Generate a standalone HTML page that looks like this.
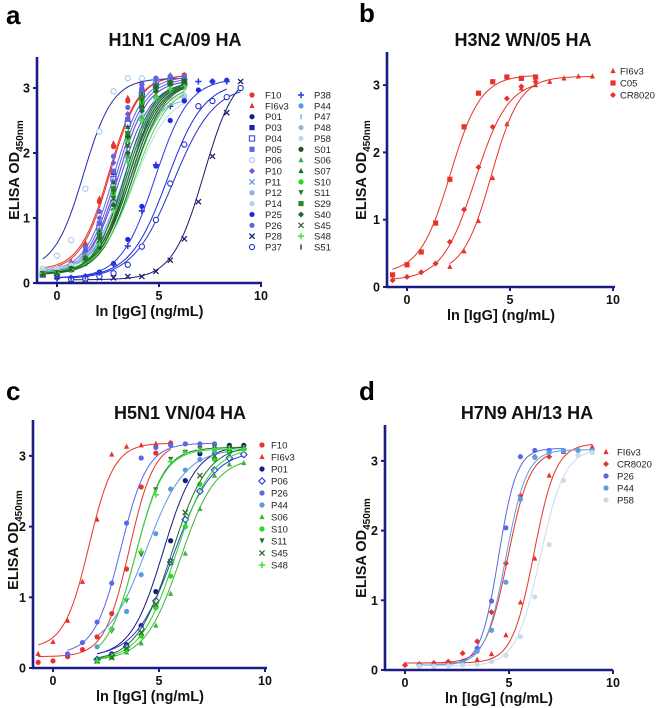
<!DOCTYPE html>
<html><head><meta charset="utf-8"><style>
body{margin:0;background:#fff;width:660px;height:708px;overflow:hidden}
svg{display:block;font-family:"Liberation Sans",Arial,sans-serif}
.tl{font-weight:bold;font-size:12.5px;fill:#111}
.ti{font-weight:bold;font-size:18px;fill:#111}
.pl{font-weight:bold;font-size:26px;fill:#000}
.at{font-weight:bold;font-size:14.5px;fill:#111}
.lg{font-size:9.5px;fill:#222}
</style></head><body>
<svg id="fig" width="660" height="708" viewBox="0 0 660 708"></svg>
<script>
// ---------- DATA ----------
// x grid (ln ng/mL) for dilution steps
const gridX = [-0.7,0.0,0.69,1.39,2.08,2.77,3.47,4.16,4.85,5.55,6.24,6.93,7.62,8.32,9.0];

// Panel a: H1N1 CA/09 HA
const aNames   = ["F10","FI6v3","P01","P03","P04","P05","P06","P10","P11","P12","P14","P25","P26","P28","P37","P38","P44","P47","P48","P58","S01","S06","S07","S10","S11","S29","S40","S45","S48","S51"];
const aColors  = ["#e8322a","#e8322a","#1a1a80","#1a22b0","#4848d8","#6464d8","#2828a8","#6a58d8","#58a0e0","#86b4e6","#b8d0ee","#1a2ae0","#5a68e6","#1a1a70","#2232c8","#2a3ae0","#5a9ae0","#90b4e0","#9ab4d6","#c4d8ec","#1a5a1a","#3cb43c","#1a6a2a","#22dd22","#2a7a2a","#2a8a2a","#1a6a3a","#2a6a2a","#40e040","#2a5a2a"];
const aMarkers = ["circle","tri","circle","square","osquare","square","ocircle","diamond","x","circle","circle","circle","circle","x","ocircle","plus","circle","bar","circle","circle","circle","tri","tri","circle","dtri","square","diamond","x","plus","bar"];
const aEC50    = [2.6,2.55,3.6,3.0,3.1,3.0,1.3,2.9,3.3,3.2,3.4,5.4,2.8,7.2,5.7,4.8,3.4,3.3,3.6,3.8,3.5,3.7,3.3,3.5,3.6,3.4,3.7,3.6,3.8,3.5];
const aSlope   = [1.4,1.4,1.3,1.4,1.3,1.4,1.4,1.4,1.3,1.3,1.2,1.1,1.4,1.3,1.0,1.2,1.3,1.3,1.2,1.2,1.4,1.3,1.4,1.3,1.3,1.4,1.3,1.3,1.2,1.3];
const aBottom  = [0.18,0.2,0.14,0.15,0.13,0.15,0.2,0.15,0.16,0.18,0.2,0.08,0.16,0.05,0.06,0.07,0.18,0.17,0.2,0.2,0.14,0.14,0.14,0.15,0.14,0.14,0.13,0.14,0.15,0.14];
const aTop     = [3.2,3.2,3.1,3.12,3.1,3.12,3.15,3.15,3.12,2.85,3.0,3.1,3.18,3.3,3.05,3.15,3.1,3.1,3.0,2.9,3.1,3.05,3.1,3.1,3.1,3.1,3.1,3.1,3.05,3.1];
const aStart   = [0,0,0,0,0,0,0,0,0,0,0,1,0,2,2,1,0,0,0,0,0,0,0,0,0,0,0,0,0,0];
const aY = [
 [0.18,0.2,0.3,0.58,1.25,2.1,2.8,3.05,3.15,3.18,3.2],
 [0.2,0.22,0.33,0.62,1.3,2.15,2.85,3.1,3.15,3.2,3.2],
 [0.15,0.15,0.2,0.3,0.55,1.12,1.95,2.7,3.0,3.1,3.1],
 [0.15,0.17,0.25,0.42,0.9,1.7,2.5,2.95,3.08,3.12,3.12],
 [0.13,0.15,0.22,0.4,0.85,1.6,2.45,2.9,3.05,3.1,3.1],
 [0.15,0.17,0.26,0.45,0.92,1.72,2.52,2.95,3.08,3.12,3.1],
 [0.22,0.42,0.66,1.45,2.33,2.95,3.15,3.15,3.12,3.1,3.1],
 [0.16,0.2,0.3,0.5,1.0,1.85,2.6,3.0,3.12,3.15,3.15],
 [0.16,0.18,0.25,0.4,0.75,1.45,2.3,2.8,3.0,3.1,2.85],
 [0.18,0.2,0.27,0.42,0.8,1.45,2.2,2.65,2.8,2.85,2.85],
 [0.2,0.22,0.28,0.42,0.75,1.3,2.0,2.6,2.85,2.95,3.0],
 [0.08,0.08,0.1,0.17,0.3,0.67,1.18,1.8,2.5,2.8,2.97,3.1,3.12],
 [0.16,0.2,0.3,0.55,1.1,1.95,2.7,3.05,3.15,3.18,3.18],
 [0.05,0.06,0.08,0.08,0.1,0.1,0.18,0.35,0.68,1.25,1.95,2.62,3.1],
 [0.06,0.07,0.1,0.15,0.28,0.56,0.97,1.53,2.13,2.72,2.8,2.86,3.0],
 [0.07,0.08,0.1,0.16,0.28,0.57,1.11,1.82,2.72,3.05,3.1,3.1,3.1],
 [0.18,0.2,0.26,0.42,0.8,1.45,2.25,2.8,3.0,3.08,3.1],
 [0.17,0.19,0.25,0.4,0.78,1.5,2.3,2.85,3.05,3.1,3.1],
 [0.2,0.22,0.28,0.4,0.72,1.25,1.95,2.55,2.85,2.95,3.0],
 [0.2,0.22,0.27,0.38,0.65,1.1,1.75,2.35,2.7,2.85,2.9],
 [0.14,0.16,0.22,0.36,0.72,1.4,2.25,2.8,3.02,3.08,3.1],
 [0.14,0.15,0.2,0.33,0.62,1.2,1.95,2.55,2.9,3.0,3.05],
 [0.14,0.16,0.23,0.4,0.8,1.55,2.4,2.9,3.05,3.1,3.1],
 [0.15,0.16,0.22,0.36,0.7,1.38,2.2,2.78,3.0,3.08,3.1],
 [0.14,0.15,0.21,0.34,0.66,1.3,2.1,2.7,2.98,3.07,3.1],
 [0.14,0.16,0.22,0.38,0.75,1.45,2.3,2.85,3.02,3.08,3.1],
 [0.13,0.14,0.2,0.32,0.62,1.2,2.0,2.65,2.95,3.05,3.1],
 [0.14,0.15,0.21,0.34,0.66,1.3,2.12,2.72,2.98,3.07,3.1],
 [0.15,0.16,0.21,0.33,0.6,1.12,1.86,2.5,2.85,2.98,3.02],
 [0.14,0.16,0.22,0.37,0.72,1.4,2.25,2.8,3.02,3.08,3.1]
];
const aMarkerColors = aColors.map((c,i)=>aNames[i]==="P06"?"#a8c8ee":c);

// Panel b: H3N2 WN/05 HA
const bNames   = ["FI6v3","C05","CR8020"];
const bMarkers = ["tri","square","diamond"];
const bEC50    = [4.1,2.1,3.3];
const bSlope   = [1.45,1.35,1.25];
const bBottom  = [0.2,0.2,0.1];
const bTop     = [3.13,3.15,3.07];
const bStart   = [4,0,0];
const bY = [
 [0.3,0.53,0.98,1.62,2.42,2.95,3.0,3.05,3.1,3.13,3.13],
 [0.18,0.33,0.52,0.95,1.6,2.38,2.88,3.05,3.12,3.1,3.12],
 [0.1,0.15,0.22,0.35,0.67,1.15,1.78,2.38,2.8,2.98,3.05]
];

// Panel c: H5N1 VN/04 HA
const cNames   = ["F10","FI6v3","P01","P06","P26","P44","S06","S10","S11","S45","S48"];
const cColors  = ["#e8322a","#e8322a","#1a1a80","#2a3ad8","#5a68e6","#5a9ae0","#3cb43c","#22dd22","#2a6a2a","#2a6a2a","#40e040"];
const cMarkers = ["circle","tri","circle","odiamond","circle","circle","tri","circle","dtri","x","plus"];
const cEC50    = [3.6,1.7,5.2,5.7,3.2,4.4,6.0,5.8,3.9,5.6,3.9];
const cSlope   = [1.7,1.7,1.3,1.1,1.6,1.1,1.2,1.2,1.5,1.2,1.5];
const cBottom  = [0.16,0.28,0.15,0.15,0.2,0.25,0.1,0.1,0.1,0.1,0.1];
const cTop     = [3.2,3.18,3.15,3.08,3.18,3.1,2.98,3.12,3.12,3.15,3.1];
const cStart   = [0,0,4,4,2,4,4,4,4,4,4];
const cY = [
 [0.08,0.1,0.16,0.26,0.44,0.77,1.4,2.56,3.04,3.18],
 [0.2,0.37,0.67,1.22,2.1,3.02,3.13,3.15,3.17,3.19],
 [0.12,0.2,0.33,0.6,1.08,1.8,2.65,3.03,3.1,3.15,3.15],
 [0.12,0.18,0.3,0.55,0.95,1.5,2.1,2.5,2.8,2.97,3.02],
 [0.2,0.36,0.65,1.2,2.05,2.97,3.12,3.15,3.17,3.17,3.17],
 [0.3,0.55,0.8,1.32,1.9,2.53,2.8,2.95,3.05,3.1,3.1],
 [0.1,0.15,0.22,0.35,0.6,1.05,1.62,2.25,2.72,2.88,2.9],
 [0.1,0.15,0.25,0.45,0.85,1.3,2.0,2.6,2.95,3.05,3.1],
 [0.1,0.52,0.95,1.6,2.52,2.95,3.05,3.1,3.12,3.12,3.12],
 [0.1,0.15,0.28,0.5,0.9,1.5,2.2,2.72,3.0,3.1,3.12],
 [0.1,0.55,0.98,1.65,2.45,2.92,3.05,3.08,3.1,3.1,3.1]
];

// Panel d: H7N9 AH/13 HA
const dNames   = ["FI6v3","CR8020","P26","P44","P58"];
const dColors  = ["#e8322a","#e8322a","#5a68e6","#5aa0e0","#c8dcee"];
const dMarkers = ["tri","diamond","circle","circle","circle"];
const dEC50    = [6.2,4.95,4.5,4.85,6.5];
const dSlope   = [1.9,1.9,2.3,2.0,1.7];
const dBottom  = [0.1,0.1,0.07,0.07,0.06];
const dTop     = [3.25,3.15,3.18,3.16,3.18];
const dStart   = [1,1,2,2,2];
const dY = [
 [0.08,0.09,0.1,0.11,0.13,0.15,0.23,0.5,0.97,1.6,2.79,3.13,3.16,3.2],
 [0.07,0.08,0.1,0.12,0.24,0.41,0.83,1.53,2.5,3.06,3.06],
 [0.06,0.06,0.07,0.11,0.31,0.99,2.04,3.06,3.15,3.15,3.14],
 [0.06,0.06,0.07,0.1,0.27,0.57,1.26,2.45,3.05,3.12,3.15,3.15,3.15],
 [0.05,0.05,0.06,0.07,0.08,0.12,0.21,0.48,1.05,1.8,2.72,3.08,3.12]
];

// ---------- RENDER ----------
const NS="http://www.w3.org/2000/svg";
const svg=document.getElementById('fig');
function mk(tag,attrs,parent){const e=document.createElementNS(NS,tag);for(const k in attrs)e.setAttribute(k,attrs[k]);(parent||svg).appendChild(e);return e;}
const AX="#1c1c86";

function marker(g,type,x,y,c){
  const s=2.6;let e;
  if(type==="circle")e=mk('circle',{cx:x,cy:y,r:s,fill:c},g);
  else if(type==="ocircle")e=mk('circle',{cx:x,cy:y,r:s,fill:'#fff',stroke:c,'stroke-width':1.1},g);
  else if(type==="square")e=mk('rect',{x:x-s,y:y-s,width:2*s,height:2*s,fill:c},g);
  else if(type==="osquare")e=mk('rect',{x:x-s,y:y-s,width:2*s,height:2*s,fill:'#fff',stroke:c,'stroke-width':1.1},g);
  else if(type==="tri")e=mk('polygon',{points:`${x},${y-s-0.5} ${x+s},${y+s-0.5} ${x-s},${y+s-0.5}`,fill:c},g);
  else if(type==="dtri")e=mk('polygon',{points:`${x},${y+s} ${x+s},${y-s} ${x-s},${y-s}`,fill:c},g);
  else if(type==="diamond")e=mk('polygon',{points:`${x},${y-s-0.4} ${x+s+0.4},${y} ${x},${y+s+0.4} ${x-s-0.4},${y}`,fill:c},g);
  else if(type==="odiamond")e=mk('polygon',{points:`${x},${y-s-0.6} ${x+s+0.6},${y} ${x},${y+s+0.6} ${x-s-0.6},${y}`,fill:'#fff',stroke:c,'stroke-width':1.1},g);
  else if(type==="x")e=mk('path',{d:`M${x-s} ${y-s}L${x+s} ${y+s}M${x+s} ${y-s}L${x-s} ${y+s}`,stroke:c,'stroke-width':1.3},g);
  else if(type==="plus")e=mk('path',{d:`M${x-s-0.5} ${y}L${x+s+0.5} ${y}M${x} ${y-s-0.5}L${x} ${y+s+0.5}`,stroke:c,'stroke-width':1.5},g);
  else e=mk('rect',{x:x-0.8,y:y-s,width:1.6,height:2*s,fill:c},g);
  
  
  return e;
}

function panel(P){
  const g=mk('g',{});
  
  
  const sx=v=>P.x0+P.kx*v, sy=v=>P.y0-P.ky*v;
  const mcol=P.mcolors||P.colors;
  let t=mk('text',{x:P.lx,y:P.ly,class:'pl'},g);t.textContent=P.id;
  
  t=mk('text',{x:P.tx,y:P.ty,class:'ti','text-anchor':'middle'},g);t.textContent=P.title;
  
  for(let i=0;i<P.names.length;i++){
    const c=P.colors[i];const ys=P.ys[i];const st=P.start[i];
    const xa=gridX[st], xb=gridX[st+ys.length-1];
    let d='';
    for(let k=0;k<=80;k++){const x=xa+(xb-xa)*k/80;
      const y=P.bot[i]+(P.top[i]-P.bot[i])/(1+Math.exp(-P.slope[i]*(x-P.ec[i])));
      d+=(k?'L':'M')+sx(x).toFixed(1)+' '+sy(y).toFixed(1);}
    const p=mk('path',{d,fill:'none',stroke:c,'stroke-width':1},g);
    
    
    ys.forEach((v,k)=>marker(g,P.markers[i],sx(gridX[st+k]),sy(v),mcol[i]));
  }
  let a=mk('path',{d:`M${P.ax} ${P.top_}L${P.ax} ${P.y0}L${P.right} ${P.y0}`,fill:'none',stroke:AX,'stroke-width':2.6},g);
  
  [0,5,10].forEach(v=>{mk('line',{x1:sx(v),x2:sx(v),y1:P.y0,y2:P.y0+4,stroke:AX,'stroke-width':2},g);
    const tt=mk('text',{x:sx(v),y:P.y0+17,class:'tl','text-anchor':'middle'},g);tt.textContent=v;
    });
  [0,1,2,3].forEach(v=>{mk('line',{x1:P.ax-4,x2:P.ax,y1:sy(v),y2:sy(v),stroke:AX,'stroke-width':2},g);
    const tt=mk('text',{x:P.ax-7,y:sy(v)+4.5,class:'tl','text-anchor':'end'},g);tt.textContent=v;
    });
  t=mk('text',{x:(P.ax+P.right)/2,y:P.y0+33,class:'at','text-anchor':'middle'},g);t.textContent='ln [IgG] (ng/mL)';
  
  t=mk('text',{transform:`translate(${P.yx},${P.yy}) rotate(-90)`,class:'at','text-anchor':'middle'},g);
  
  t.innerHTML='ELISA OD<tspan font-size="10" dy="4">450nm</tspan>';
  for(let i=0;i<P.names.length;i++){
    const col=P.legCols&&i>=P.legCols?1:0; const row=col?i-P.legCols:i;
    const mx=P.lgx+col*P.lgdx, my=P.lgy+row*P.lgdy;
    const lg=mk('g',{},g);
    
    
    marker(lg,P.markers[i],mx,my,mcol[i]);
    const lt=mk('text',{x:mx+P.lgtx,y:my+3.5,class:'lg'},lg);lt.textContent=P.names[i];
  }
}

panel({id:'a',title:'H1N1 CA/09 HA',lx:6,ly:24,tx:175,ty:46,x0:57,kx:20.4,y0:283,ky:65,ax:37,top_:57,right:262,yx:19,yy:170,
  names:aNames,colors:aColors,mcolors:aMarkerColors,markers:aMarkers,ec:aEC50,slope:aSlope,bot:aBottom,top:aTop,start:aStart,ys:aY,
  lgx:252,lgy:95,lgdx:49,lgdy:10.86,lgtx:13,legCols:15});
panel({id:'b',title:'H3N2 WN/05 HA',lx:359,ly:22,tx:523,ty:46,x0:407,kx:20.6,y0:287,ky:67.3,ax:387,top_:52,right:615,yx:366,yy:170,
  names:bNames,colors:["#e8322a","#e8322a","#e8322a"],markers:bMarkers,ec:bEC50,slope:bSlope,bot:bBottom,top:bTop,start:bStart,ys:bY,
  lgx:613,lgy:71,lgdx:0,lgdy:12,lgtx:7});
panel({id:'c',title:'H5N1 VN/04 HA',lx:6,ly:400,tx:180,ty:419,x0:53,kx:21.2,y0:668,ky:70.7,ax:33,top_:420,right:267,yx:18,yy:540,
  names:cNames,colors:cColors,markers:cMarkers,ec:cEC50,slope:cSlope,bot:cBottom,top:cTop,start:cStart,ys:cY,
  lgx:262,lgy:445,lgdx:0,lgdy:12,lgtx:9});
panel({id:'d',title:'H7N9 AH/13 HA',lx:359,ly:400,tx:527,ty:419,x0:405,kx:20.8,y0:670,ky:69.7,ax:385,top_:425,right:613,yx:366,yy:548,
  names:dNames,colors:dColors,markers:dMarkers,ec:dEC50,slope:dSlope,bot:dBottom,top:dTop,start:dStart,ys:dY,
  lgx:606,lgy:452,lgdx:0,lgdy:12,lgtx:11});
</script>
</body></html>
